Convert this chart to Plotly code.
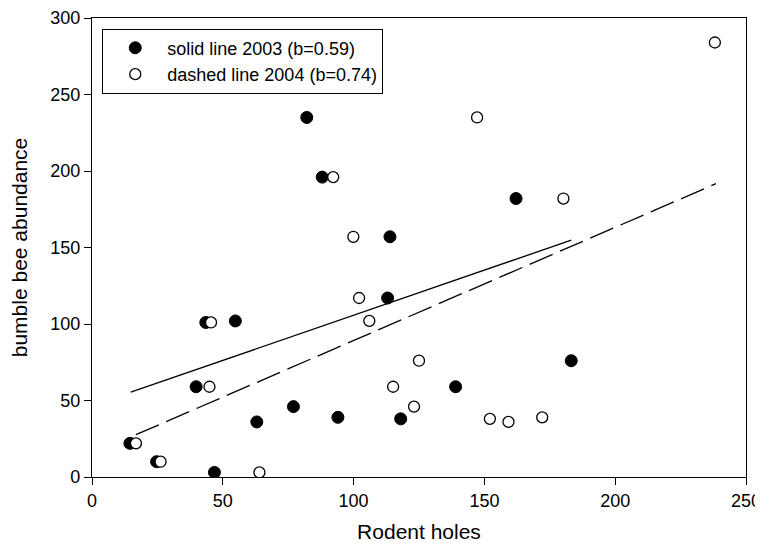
import plotly.graph_objects as go

# 2003 (filled)
x2003 = [14.5, 24.7, 39.8, 43.5, 54.8, 46.8, 63.0, 77.0, 82.1, 88.0, 94.0, 113.0, 113.9, 118.0, 139.0, 162.1, 183.2]
y2003 = [22, 10, 59, 101, 102, 3, 36, 46, 235, 196, 39, 117, 157, 38, 59, 182, 76]
# 2004 (open)
x2004 = [16.8, 26.2, 44.9, 45.5, 64.0, 92.2, 99.9, 102.1, 106.0, 115.1, 123.1, 125.0, 147.2, 152.1, 159.2, 172.1, 180.2, 238.1]
y2004 = [22, 10, 59, 101, 3, 196, 157, 117, 102, 59, 46, 76, 235, 38, 36, 39, 182, 284]

# regression lines (intercept, slope, x-range)
fit2003 = dict(a=46.7, b=0.59, x0=14.8, x1=183.2)
fit2004 = dict(a=15.2, b=0.74, x0=16.8, x1=238.5)

xticks = [0, 50, 100, 150, 200, 250]
yticks = [0, 50, 100, 150, 200, 250, 300]

FONT = "Liberation Sans, Arial, sans-serif"

fig = go.Figure()
fig.add_trace(go.Scatter(
    x=[fit2003["x0"], fit2003["x1"]],
    y=[fit2003["a"] + fit2003["b"] * fit2003["x0"], fit2003["a"] + fit2003["b"] * fit2003["x1"]],
    mode="lines", line=dict(color="black", width=1.3), showlegend=False, hoverinfo="skip"))
fig.add_trace(go.Scatter(
    x=[fit2004["x0"], fit2004["x1"]],
    y=[fit2004["a"] + fit2004["b"] * fit2004["x0"], fit2004["a"] + fit2004["b"] * fit2004["x1"]],
    mode="lines", line=dict(color="black", width=1.3, dash="25px,8px"), showlegend=False, hoverinfo="skip"))
fig.add_trace(go.Scatter(
    x=x2003, y=y2003, mode="markers", name="solid line 2003 (b=0.59)",
    marker=dict(symbol="circle", size=12, color="black", line=dict(color="black", width=1))))
fig.add_trace(go.Scatter(
    x=x2004, y=y2004, mode="markers", name="dashed line 2004 (b=0.74)",
    marker=dict(symbol="circle", size=11, color="white", line=dict(color="black", width=1.3))))

axis_common = dict(
    showgrid=False, zeroline=False, showline=True, linecolor="black", linewidth=1.3,
    mirror=True, ticks="outside", ticklen=7, tickwidth=1.3, tickcolor="black",
    tickfont=dict(family=FONT, size=18, color="black"), automargin=False,
)
fig.update_xaxes(range=[0, 250], tickvals=xticks, ticktext=[str(v) for v in xticks],
                 title=dict(text="Rodent holes", font=dict(family=FONT, size=21, color="black"), standoff=31),
                 **axis_common)
fig.update_yaxes(range=[0, 300], tickvals=yticks, ticktext=[str(v) for v in yticks],
                 title=dict(text="bumble bee abundance", font=dict(family=FONT, size=21, color="black"), standoff=20),
                 **axis_common)

# page body has an 8px margin; size the figure so the plot frame lands where the reference has it
fig.update_layout(
    width=755, height=535,
    margin=dict(l=84, r=17, t=10, b=66),
    plot_bgcolor="white", paper_bgcolor="white",
    font=dict(family=FONT, color="black"),
    legend=dict(x=0.0157, y=0.977, xanchor="left", yanchor="top",
                bordercolor="black", borderwidth=1, bgcolor="white",
                font=dict(family=FONT, size=18, color="black"),
                itemwidth=54, tracegroupgap=0),
)

fig.write_html("out.html")
